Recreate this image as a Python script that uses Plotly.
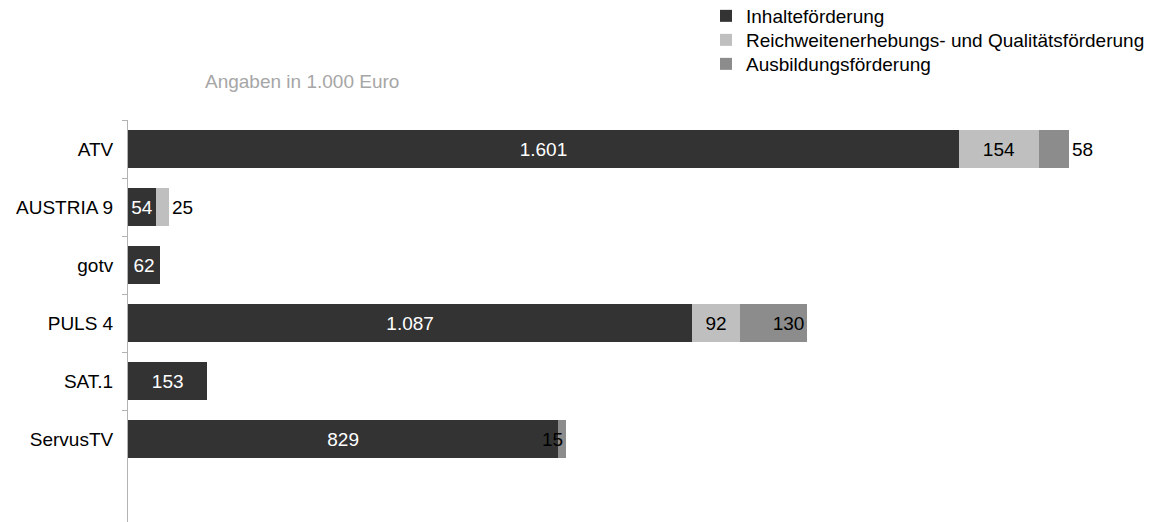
import plotly.graph_objects as go

categories = ["ATV", "AUSTRIA 9", "gotv", "PULS 4", "SAT.1", "ServusTV"]
inhalte = [1601, 54, 62, 1087, 153, 829]
reichweite = [154, 25, None, 92, None, None]
ausbildung = [58, None, None, 130, None, 15]

series_names = ["Inhalteförderung", "Reichweitenerhebungs- und Qualitätsförderung", "Ausbildungsförderung"]
colors = ["#333333", "#bfbfbf", "#8c8c8c"]

def fmt(v):
    return "" if v is None else f"{v:,}".replace(",", ".")

FONT = "Liberation Sans, Arial, sans-serif"
FS = 19
W, H = 1155, 522
ML, MR = 128, 5
PLOT_TOP = 120
plot_w = W - ML - MR

fig = go.Figure()
fig.add_trace(go.Bar(
    y=categories, x=inhalte, orientation="h", name=series_names[0],
    marker=dict(color=colors[0], line=dict(width=0)),
    text=[fmt(v) for v in inhalte], textposition="inside", insidetextanchor="middle",
    constraintext="none", textangle=0, textfont=dict(color="white", size=FS, family=FONT),
    legend="legend", showlegend=True, hoverinfo="x+name"))
fig.add_trace(go.Bar(
    y=categories, x=reichweite, orientation="h", name=series_names[1],
    marker=dict(color=colors[1], line=dict(width=0)),
    text=[fmt(v) for v in reichweite],
    textposition=["inside", "outside", "inside", "inside", "inside", "inside"],
    insidetextanchor="middle", constraintext="none", textangle=0, cliponaxis=False,
    textfont=dict(color="black", size=FS, family=FONT),
    legend="legend2", showlegend=True, hoverinfo="x+name"))
fig.add_trace(go.Bar(
    y=categories, x=ausbildung, orientation="h", name=series_names[2],
    marker=dict(color=colors[2], line=dict(width=0)),
    text=[fmt(v) for v in ausbildung],
    textposition=["outside", "inside", "inside", "inside", "inside", "inside"],
    insidetextanchor="end", constraintext="none", textangle=0, cliponaxis=False,
    textfont=dict(color="black", size=FS, family=FONT),
    legend="legend3", showlegend=True, hoverinfo="x+name"))

def leg(ypx):
    return dict(xref="paper", yref="paper", x=(706 - ML) / plot_w, y=1 - ypx / H,
                xanchor="left", yanchor="middle", itemwidth=30, visible=True,
                font=dict(size=FS, color="black", family=FONT), bgcolor="rgba(0,0,0,0)")

fig.update_layout(
    width=W, height=H,
    barmode="stack", bargap=0.34,
    showlegend=True,
    paper_bgcolor="white", plot_bgcolor="white",
    font=dict(family=FONT, size=FS, color="black"),
    margin=dict(l=ML, r=MR, t=0, b=0, autoexpand=False),
    title=dict(text="Angaben in 1.000 Euro", xref="container", x=205/W, xanchor="left",
               yref="container", y=1-81/H, yanchor="middle",
               font=dict(size=FS, color="#a6a6a6", family=FONT)),
    legend=leg(16), legend2=leg(40), legend3=leg(64),
    xaxis=dict(range=[0, plot_w/0.519], visible=False, showgrid=False, zeroline=False),
    yaxis=dict(domain=[0, (H-PLOT_TOP)/H],
               categoryorder="array", categoryarray=categories, range=[6.43, -0.5],
               showline=True, linecolor="#b3b3b3", linewidth=1,
               ticks="outside", ticklen=5, tickcolor="#b3b3b3", tickson="boundaries",
               ticklabelstandoff=10, showgrid=False, zeroline=False,
               tickfont=dict(size=FS, color="black", family=FONT)),
)

fig.write_html("out.html", config={"displayModeBar": False},
               post_script="document.body.style.margin='0';document.body.style.overflow='hidden';")
